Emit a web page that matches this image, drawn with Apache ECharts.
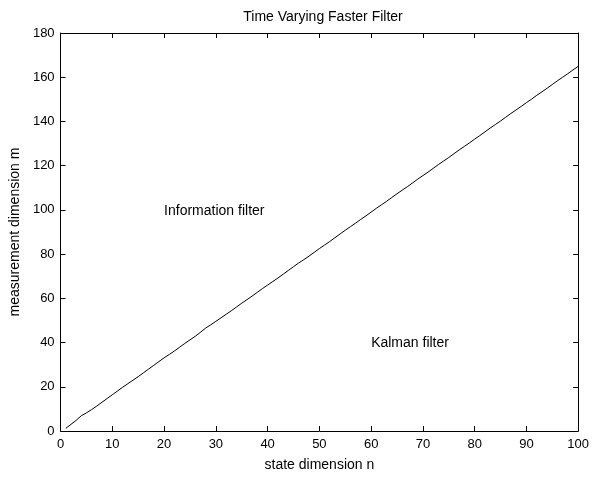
<!DOCTYPE html>
<html><head><meta charset="utf-8">
<script src="https://cdn.jsdelivr.net/npm/echarts@6/dist/echarts.min.js"></script>
<style>html,body{margin:0;padding:0;background:#fff}#c{width:592px;height:477px}</style>
</head><body><div id="c"></div>
<script>
var stateDim = [];
for (var i = 1; i <= 100; i++) stateDim.push(i);
var measDim = [1.2,3.0,4.8,6.9,8.2,9.7,11.3,13.0,14.7,16.4,18.1,19.8,21.4,23.0,24.6,26.3,28.0,29.7,31.4,33.1,
34.6,36.2,37.9,39.6,41.2,42.8,44.6,46.5,48.0,49.6,51.2,52.8,54.4,56.1,57.8,59.4,61.0,62.7,64.4,66.0,
67.6,69.2,70.9,72.6,74.3,76.0,77.5,79.1,80.8,82.5,84.1,85.7,87.4,89.1,90.8,92.4,94.0,95.7,97.3,99.0,
100.7,102.3,103.9,105.6,107.3,108.9,110.5,112.2,113.9,115.5,117.1,118.8,120.5,122.1,123.7,125.4,127.1,128.7,130.3,132.0,
133.6,135.3,137.0,138.6,140.2,141.9,143.6,145.2,146.8,148.5,150.1,151.8,153.4,155.0,156.7,158.4,160.0,161.6,163.3,164.9];
var xTicks = [0,10,20,30,40,50,60,70,80,90,100];
var yTicks = [0,20,40,60,80,100,120,140,160,180];
var annotations = [{text:'Information filter', n:20, m:100},{text:'Kalman filter', n:60, m:40}];

var font = 'Liberation Sans, Arial, sans-serif';
var chart = echarts.init(document.getElementById('c'), null, {renderer:'canvas'});
var lineSty = {color:'#000', width:1};
function xa(pos, show){return {type:'value', position:pos, min:xTicks[0], max:xTicks[xTicks.length-1], interval:xTicks[1]-xTicks[0],
  axisLine:{show:true, onZero:false, lineStyle:lineSty},
  axisTick:{show:true, inside:true, length:5, lineStyle:lineSty},
  axisLabel:{show:show, color:'#000', fontSize:13, fontFamily:font, margin:7},
  splitLine:{show:false},
  name: show ? 'state dimension n' : '', nameLocation:'middle', nameGap:27,
  nameTextStyle:{color:'#000', fontSize:14, fontFamily:font}};}
function ya(pos, show){return {type:'value', position:pos, min:yTicks[0], max:yTicks[yTicks.length-1], interval:yTicks[1]-yTicks[0],
  axisLine:{show:true, onZero:false, lineStyle:lineSty},
  axisTick:{show:true, inside:true, length:5, lineStyle:lineSty},
  axisLabel:{show:show, color:'#000', fontSize:13, fontFamily:font, margin:6},
  splitLine:{show:false},
  name: show ? 'measurement dimension m' : '', nameLocation:'middle', nameGap:37,
  nameTextStyle:{color:'#000', fontSize:14, fontFamily:font}};}
chart.setOption({
  animation:false,
  backgroundColor:'#fff',
  title:{text:'Time Varying Faster Filter', left:318, textAlign:'center', top:5,
    textStyle:{color:'#000', fontSize:14, fontWeight:'normal', fontFamily:font}},
  grid:{left:58, right:13, top:33, bottom:44},
  xAxis:[xa('bottom', true), xa('top', false)],
  yAxis:[ya('left', true), ya('right', false)],
  series:[{type:'line', data: stateDim.map(function(n,i){return [n, measDim[i]];}),
    showSymbol:false, lineStyle:{color:'#000', width:1}, silent:true,
    markPoint:{symbol:'circle', symbolSize:0, silent:true,
      data: annotations.map(function(a){return {coord:[a.n, a.m],
        label:{show:true, formatter:a.text, position:'right', distance:0, offset:[0,1], color:'#000', fontSize:14, fontFamily:font}};})}
  }]
});
</script></body></html>
